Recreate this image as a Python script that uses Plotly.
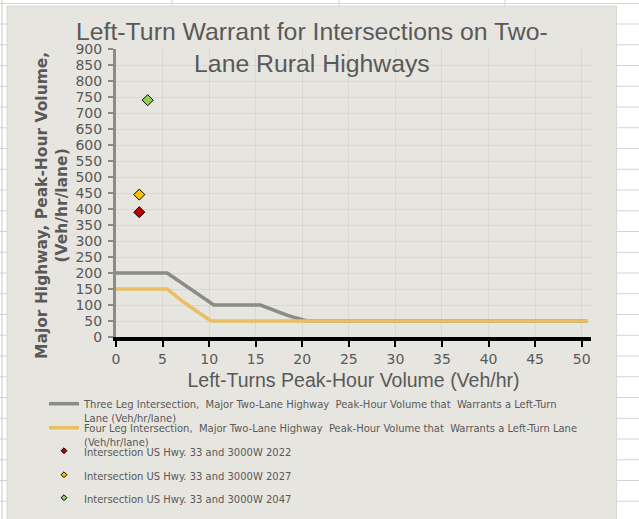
import plotly.graph_objects as go

# ---- data -------------------------------------------------------------
three_leg_x = [0, 5.5, 10.5, 15.5, 18.5, 20.5, 50.6]
three_leg_y = [200, 200, 100, 100, 67, 50, 50]

four_leg_x = [0, 5.5, 7.2, 10.2, 50.6]
four_leg_y = [150, 150, 110, 50, 50]

site_names = [
    "Intersection US Hwy. 33 and 3000W 2022",
    "Intersection US Hwy. 33 and 3000W 2027",
    "Intersection US Hwy. 33 and 3000W 2047",
]
site_x = [2.5, 2.5, 3.4]
site_y = [390, 445, 740]
site_colors = ["#c00000", "#ffc000", "#92d050"]

x_ticks = list(range(0, 51, 5))
y_ticks = list(range(0, 901, 50))

three_leg_name = ("Three Leg Intersection,  Major Two-Lane Highway  Peak-Hour Volume that  "
                  "Warrants a Left-Turn<br>Lane (Veh/hr/lane)")
four_leg_name = ("Four Leg Intersection,  Major Two-Lane Highway  Peak-Hour Volume that  "
                 "Warrants a Left-Turn Lane<br>(Veh/hr/lane)")

# ---- page geometry (pixels) ---------------------------------------------
W, H = 639, 519
L, R, T, B = 116, 591, 49, 337


def px_x(p):
    return (p - L) / (R - L)


def px_y(p):
    return (B - p) / (B - T)


TEXT = "#595959"
PANEL = "#e7e5df"
SHEET_LINE = "#d4d4d4"
NARROW = "Liberation Sans Narrow, Arial Narrow, DejaVu Sans Condensed, sans-serif"

fig = go.Figure()

fig.add_trace(go.Scatter(
    x=three_leg_x, y=three_leg_y, mode="lines", name=three_leg_name,
    line=dict(color="#8b8b87", width=3.5), legend="legend",
))
fig.add_trace(go.Scatter(
    x=four_leg_x, y=four_leg_y, mode="lines", name=four_leg_name,
    line=dict(color="#e9bf61", width=3.5), legend="legend2",
))

legend_ids = ["legend3", "legend4", "legend5"]
for name, xv, yv, col, lid in zip(site_names, site_x, site_y, site_colors, legend_ids):
    # plotted point
    fig.add_trace(go.Scatter(
        x=[xv], y=[yv], mode="markers", name=name, showlegend=False,
        marker=dict(symbol="diamond", size=8.5, color=col,
                    line=dict(color="#000000", width=1)),
    ))
    # smaller legend swatch
    fig.add_trace(go.Scatter(
        x=[None], y=[None], mode="markers", name=name, legend=lid,
        marker=dict(symbol="diamond", size=4.5, color=col,
                    line=dict(color="#000000", width=1)),
    ))

# ---- worksheet backdrop ---------------------------------------------------
shapes = []
row_ys = [24 + 20.75 * k for k in range(24)]
for ry in row_ys:
    shapes.append(dict(type="line", xref="paper", yref="paper", layer="below",
                       x0=px_x(617), x1=px_x(W), y0=px_y(ry), y1=px_y(ry),
                       line=dict(color=SHEET_LINE, width=1)))
    shapes.append(dict(type="line", xref="paper", yref="paper", layer="below",
                       x0=px_x(0), x1=px_x(7), y0=px_y(ry), y1=px_y(ry),
                       line=dict(color=SHEET_LINE, width=1)))
shapes.append(dict(type="line", xref="paper", yref="paper", layer="below",
                   x0=px_x(0), x1=px_x(W), y0=px_y(3.5), y1=px_y(3.5),
                   line=dict(color=SHEET_LINE, width=1)))
for cx in [172, 339, 505]:
    shapes.append(dict(type="line", xref="paper", yref="paper", layer="below",
                       x0=px_x(cx), x1=px_x(cx), y0=px_y(0), y1=px_y(6),
                       line=dict(color=SHEET_LINE, width=1)))
shapes.append(dict(type="line", xref="paper", yref="paper", layer="below",
                   x0=px_x(2), x1=px_x(2), y0=px_y(0), y1=px_y(H),
                   line=dict(color="#c8c8c8", width=1)))
# chart panel
shapes.append(dict(type="rect", xref="paper", yref="paper", layer="below",
                   x0=px_x(7), x1=px_x(616.5), y0=px_y(6), y1=px_y(H + 2),
                   fillcolor=PANEL, line=dict(color="#d8d8d8", width=1)))

# ---- legends: one per entry so each row sits where it belongs -------------
# (container coordinates, so the legends never push the plot margins)
legend_rows = [("legend", 390), ("legend2", 414), ("legend3", 437),
               ("legend4", 461), ("legend5", 484)]
legend_layout = {}
for lid, top in legend_rows:
    legend_layout[lid] = dict(
        x=44 / W, y=1 - top / H, xanchor="left", yanchor="top",
        xref="container", yref="container", bgcolor="rgba(0,0,0,0)", borderwidth=0,
        font=dict(family=NARROW, size=11.1, color=TEXT), valign="top",
        itemwidth=30,
    )

fig.update_layout(
    width=W, height=H,
    margin=dict(l=L, r=W - R, t=T, b=H - B, pad=0, autoexpand=False),
    paper_bgcolor="#ffffff",
    plot_bgcolor="rgba(0,0,0,0)",
    shapes=shapes,
    **legend_layout,
    xaxis=dict(
        range=[0, 51], tickvals=x_ticks, ticktext=[str(v) for v in x_ticks],
        showgrid=True, gridcolor="#d9d7d1", gridwidth=1, zeroline=False,
        showline=True, linecolor="#000000", linewidth=4,
        ticks="outside", ticklen=6, tickwidth=2, tickcolor="#000000",
        tickfont=dict(family="DejaVu Sans", size=14, color=TEXT),
        title=dict(text="Left-Turns Peak-Hour Volume (Veh/hr)", standoff=9,
                   font=dict(family="Liberation Sans, Arial, sans-serif", size=19.5, color=TEXT)),
    ),
    yaxis=dict(
        range=[0, 900], tickvals=y_ticks, ticktext=[str(v) for v in y_ticks],
        showgrid=True, gridcolor="#d9d7d1", gridwidth=1, zeroline=False,
        showline=True, linecolor="#8b8b87", linewidth=3,
        ticks="outside", ticklen=5, tickwidth=2, tickcolor="#8b8b87",
        tickfont=dict(family="DejaVu Sans", size=14, color=TEXT),
        ticklabelstandoff=3,
    ),
    annotations=[
        dict(text="Left-Turn Warrant for Intersections on Two-<br>Lane Rural Highways",
             xref="paper", yref="paper", x=px_x(312), y=px_y(47),
             xanchor="center", yanchor="middle", showarrow=False,
             font=dict(family="Liberation Sans, Arial, sans-serif", size=24.8, color=TEXT)),
        dict(text="Major Highway, Peak-Hour Volume,<br>(Veh/hr/lane)",
             xref="paper", yref="paper", x=px_x(52), y=px_y(206),
             xanchor="center", yanchor="middle", showarrow=False, textangle=-90,
             font=dict(family="DejaVu Sans", size=15.5, color=TEXT, weight="bold")),
    ],
)

fig.write_html("out.html")
